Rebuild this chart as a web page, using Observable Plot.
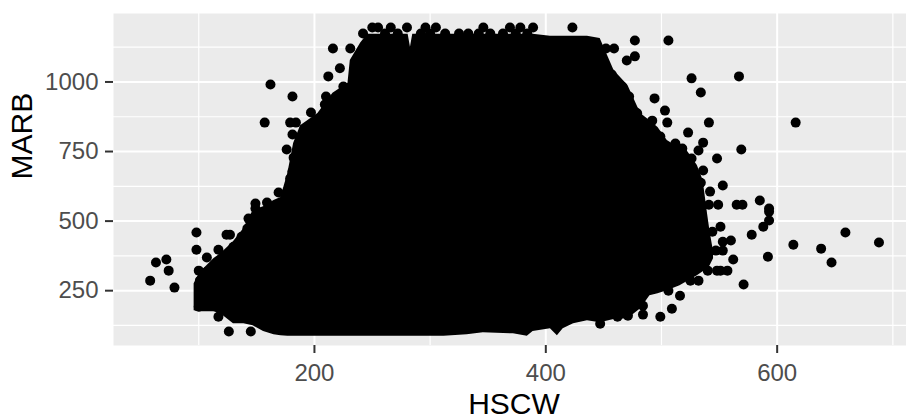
<!DOCTYPE html>
<html><head><meta charset="utf-8">
<style>html,body{margin:0;padding:0;background:#fff}</style>
<script src="https://cdn.jsdelivr.net/npm/d3@7"></script>
<script src="https://cdn.jsdelivr.net/npm/@observablehq/plot@0.6"></script>
</head><body><div id="chart"></div>
<script>
const xMajor=[200,400,600];
const xMinor=[100,300,500,700];
const yMajor=[250,500,750,1000];
const yMinor=[125,375,625,875,1125];
// dense region envelope
const massHscw=[96,101,107,113,119,130,139,147,156,165,171,177,182,188,203,216,229,231,240,246,274,281,283,285,312,332,346,372,384,389,404,410,415,424,436,447,459,471,482,490,497,505,516,522,531,536,540,542,545];
const massTop=[275,315,340,365,383,426,473,538,552,574,585,671,779,843,887,959,995,1077,1140,1171,1171,1171,1125,1171,1171,1171,1171,1171,1171,1171,1164,1164,1164,1164,1164,1156,1041,987,887,861,836,790,761,754,700,646,520,462,390];
const massBottom=[178,174,174,174,167,131,131,124,103,92,88,86,86,86,86,86,86,86,86,86,86,86,86,86,86,92,99,95,86,103,113,88,113,131,142,135,146,149,185,232,239,250,268,282,304,318,329,340,365];
// individually visible points
const hscw=[162,181,157,179,184,181,176,182,181,179,169,149,159,
98,98,124,127,117,107,72,63,74,58,79,100,117,126,145,100,143,149,
250,255,266,280,296,305,346,369,378,389,423,242,325,333,363,
261,272,292,300,313,342,352,374,384,
216,231,222,212,225,210,209,197,205,
477,506,459,452,477,470,526,567,534,457,466,472,494,503,505,541,616,492,466,478,523,499,536,532,512,518,569,526,548,536,529,553,542,585,593,532,549,541,565,570,
593,593,588,551,578,560,553,614,659,688,638,647,592,562,553,557,551,548,571,540,532,516,506,509,499,484,471,462,447,
460,453,456,473,479,484,490,510,514,512,522,534,525,544,547,525,495,484,
101,107,122,130,137,142];
const marb=[991,948,854,854,854,811,757,728,678,653,603,563,567,
459,397,451,451,397,369,362,351,322,286,261,322,156,103,103,192,509,545,
1196,1196,1196,1196,1196,1196,1196,1196,1196,1196,1196,1174,1174,1174,1174,
1174,1174,1174,1174,1174,1174,1174,1174,1174,
1120,1120,1049,1020,984,948,919,890,869,
1149,1149,1120,1120,1092,1077,1013,1020,962,1027,984,948,941,897,854,854,854,861,890,890,818,804,782,754,779,761,757,725,725,682,638,628,606,574,545,581,559,559,559,559,
534,502,480,480,451,430,426,415,459,423,401,351,372,362,394,322,322,322,272,322,286,232,250,185,156,164,160,156,131,
995,944,908,890,887,851,815,718,707,674,635,638,610,462,394,286,265,196,
286,318,372,408,444,473];
const points=hscw.map((x,i)=>({x,y:marb[i]}));
const chart=Plot.plot({
  width:906,height:418,marginLeft:113,marginRight:0,marginTop:13,marginBottom:73,
  style:{fontFamily:"'Liberation Sans',Arial,sans-serif",background:"#fff",overflow:"visible"},
  x:{domain:[26.3,711.8],axis:null},
  y:{domain:[53,1246],axis:null},
  marks:[
    Plot.frame({fill:"#EBEBEB",stroke:null}),
    Plot.ruleX(xMinor,{stroke:"#fff",strokeWidth:1.2}),
    Plot.ruleY(yMinor,{stroke:"#fff",strokeWidth:1.2}),
    Plot.ruleX(xMajor,{stroke:"#fff",strokeWidth:2}),
    Plot.ruleY(yMajor,{stroke:"#fff",strokeWidth:2}),
    Plot.area(massHscw,{x1:massHscw,y1:massTop,y2:massBottom,fill:"#000"}),
    Plot.dot(points,{x:"x",y:"y",r:5,fill:"#000",stroke:null}),
    Plot.axisX(xMajor,{anchor:"bottom",tickSize:8,tickPadding:10,fontSize:24,label:null,tickFormat:d=>String(d),stroke:"#333",strokeWidth:2,fill:"#4D4D4D"}),
    Plot.axisY(yMajor,{anchor:"left",tickSize:8,tickPadding:7,fontSize:24,label:null,tickFormat:d=>String(d),stroke:"#333",strokeWidth:2,fill:"#4D4D4D"}),
    Plot.text(["HSCW"],{frameAnchor:"bottom",dy:68,dx:4,fontSize:30,fill:"#000"}),
    Plot.text(["MARB"],{frameAnchor:"left",dx:-91,rotate:-90,fontSize:30,fill:"#000"})
  ]
});
document.getElementById("chart").append(chart);
</script></body></html>
